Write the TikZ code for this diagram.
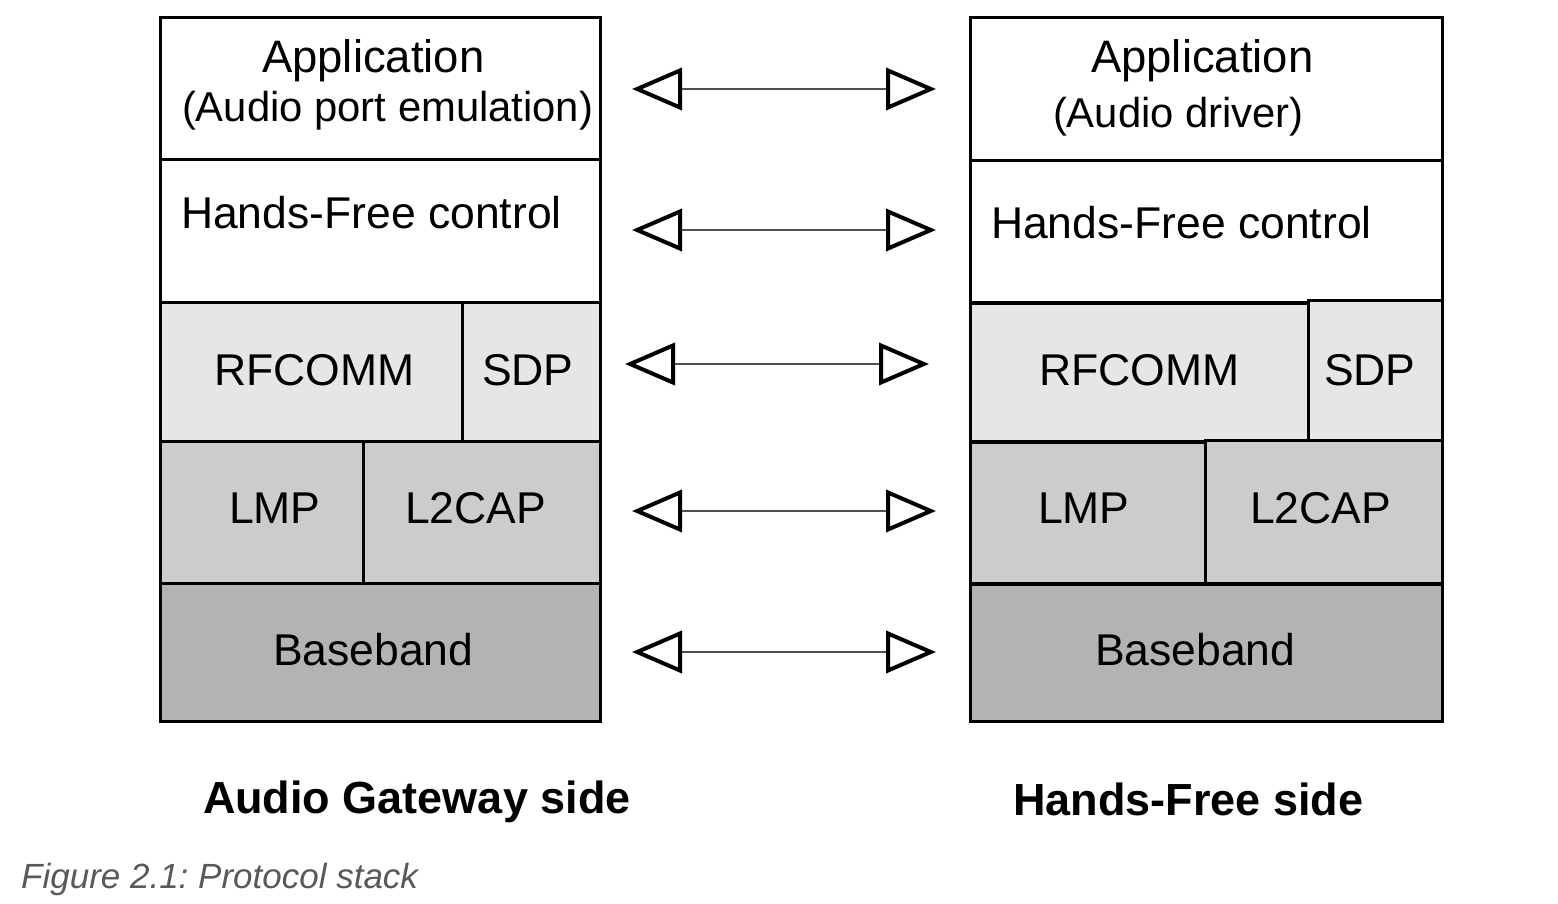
\documentclass[tikz,border=0pt]{standalone}
\usepackage{fontspec}
\setmainfont{Liberation Sans}
\usetikzlibrary{arrows.meta}
\definecolor{rfc}{HTML}{E6E6E6}
\definecolor{lnk}{HTML}{CCCCCC}
\definecolor{bbd}{HTML}{B3B3B3}
\definecolor{capgray}{HTML}{595959}
\definecolor{shaft}{HTML}{505050}
\frenchspacing
\begin{document}
\begin{tikzpicture}[x=1pt,y=-1pt,
  box/.style={draw=black, line width=3pt, inner sep=0pt, outer sep=0pt, anchor=north west},
  lbl/.style={inner sep=0pt, outer sep=0pt, anchor=base west, font=\fontsize{44.5}{50}\selectfont},
  applbl/.style={inner sep=0pt, outer sep=0pt, anchor=base west, font=\fontsize{45.5}{50}\selectfont},
  sublbl/.style={inner sep=0pt, outer sep=0pt, anchor=base west, font=\fontsize{41.8}{48}\selectfont},
  sidelbl/.style={inner sep=0pt, outer sep=0pt, anchor=base west, font=\fontsize{45}{50}\selectfont\bfseries},
  peer/.style={draw=shaft, line width=1.2pt,
    {Triangle[open, color=black, line width'=4pt, length=50pt, width=42pt]}-{Triangle[open, color=black, line width'=4pt, length=50pt, width=42pt]}}
]
\useasboundingbox (0,0) rectangle (1558,904);

% Left stack (Audio Gateway)
\node[box, fill=white, minimum width=440pt, minimum height=142pt] (appL) at (160,18) {};
\node[box, fill=white, minimum width=440pt, minimum height=142pt] (hfL) at (160,160) {};
\node[box, fill=rfc, minimum width=302pt, minimum height=139pt] (rfL) at (160,302) {};
\node[box, fill=rfc, minimum width=138pt, minimum height=139pt] (sdpL) at (462,302) {};
\node[box, fill=lnk, minimum width=203pt, minimum height=142pt] (lmpL) at (160,441) {};
\node[box, fill=lnk, minimum width=237pt, minimum height=142pt] (l2L) at (363,441) {};
\node[box, fill=bbd, minimum width=440pt, minimum height=138pt] (bbL) at (160,583) {};

% Right stack (Hands-Free)
\node[box, fill=white, minimum width=472pt, minimum height=143pt] (appR) at (970,18) {};
\node[box, fill=white, minimum width=472pt, minimum height=141pt] (hfR) at (970,161) {};
\node[box, fill=rfc, minimum width=338pt, minimum height=138pt] (rfR) at (970,303) {};
\node[box, fill=rfc, minimum width=134pt, minimum height=140pt] (sdpR) at (1308,300) {};
\node[box, fill=lnk, minimum width=235pt, minimum height=141pt] (lmpR) at (970,442) {};
\node[box, fill=lnk, minimum width=237pt, minimum height=143pt] (l2R) at (1205,440) {};
\node[box, fill=bbd, minimum width=472pt, minimum height=137pt] (bbR) at (970,584) {};

% Labels left
\node[applbl] (tAppL) at (262,73) {Application};
\node[sublbl] (tAppL2) at (182,122) {(Audio port emulation)};
\node[lbl] (tHfL) at (181,229) {Hands-Free control};
\node[lbl] (tRfL) at (214,385) {RFCOMM};
\node[lbl] (tSdpL) at (482,385) {SDP};
\node[lbl] (tLmpL) at (229,523) {LMP};
\node[lbl] (tL2L) at (405,523) {L2CAP};
\node[lbl] (tBbL) at (273,665) {Baseband};

% Labels right
\node[applbl] (tAppR) at (1091,73) {Application};
\node[sublbl] (tAppR2) at (1053,128) {(Audio driver)};
\node[lbl] (tHfR) at (991,239) {Hands-Free control};
\node[lbl] (tRfR) at (1039,385) {RFCOMM};
\node[lbl] (tSdpR) at (1324,385) {SDP};
\node[lbl] (tLmpR) at (1038,523) {LMP};
\node[lbl] (tL2R) at (1250,523) {L2CAP};
\node[lbl] (tBbR) at (1095,665) {Baseband};

% Side labels and caption
\node[sidelbl] (sideL) at (203,813) {Audio Gateway side};
\node[sidelbl] (sideR) at (1013,815) {Hands-Free side};
\node[inner sep=0pt, anchor=base west, text=capgray, font=\fontsize{35}{40}\selectfont\itshape] (caption) at (21,888) {Figure 2.1: Protocol stack};

% Peer arrows
\coordinate (a1l) at (632,89);  \coordinate (a1r) at (936,89);
\coordinate (a2l) at (632,230); \coordinate (a2r) at (936,230);
\coordinate (a3l) at (625,364); \coordinate (a3r) at (929,364);
\coordinate (a4l) at (632,511); \coordinate (a4r) at (936,511);
\coordinate (a5l) at (632,652); \coordinate (a5r) at (936,652);
\draw[peer] (a1l) -- (a1r);
\draw[peer] (a2l) -- (a2r);
\draw[peer] (a3l) -- (a3r);
\draw[peer] (a4l) -- (a4r);
\draw[peer] (a5l) -- (a5r);
\end{tikzpicture}
\end{document}
